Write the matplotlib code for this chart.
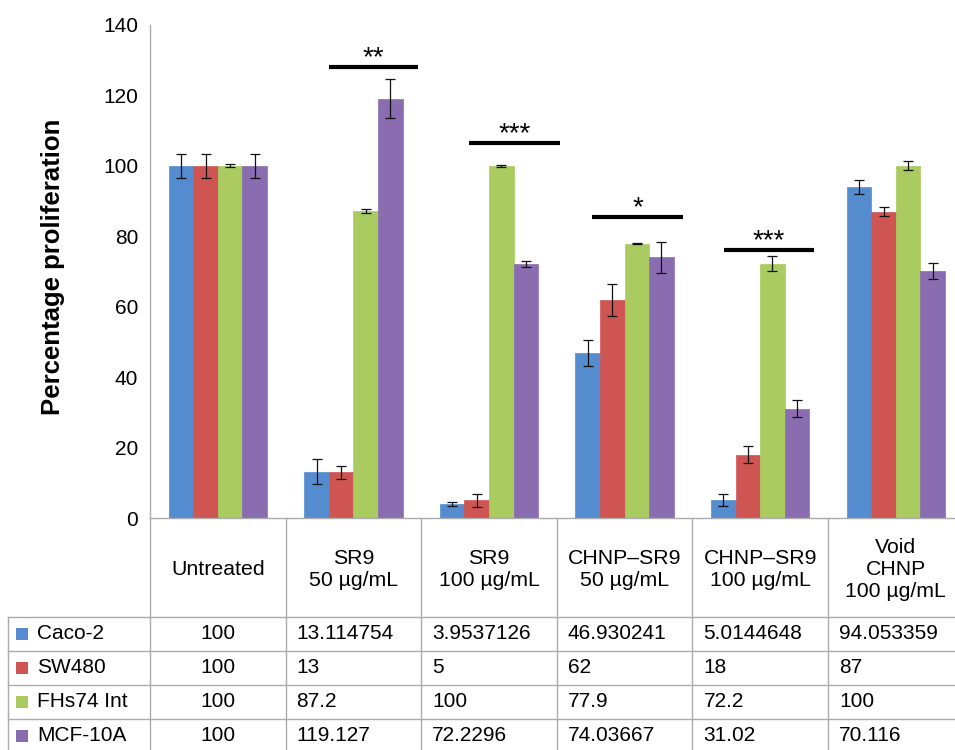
import matplotlib
matplotlib.use("Agg")
import matplotlib.pyplot as plt
import numpy as np
from matplotlib.patches import Rectangle
from matplotlib.lines import Line2D

plt.rcParams['font.family'] = ['Liberation Sans', 'DejaVu Sans']

# ---------------- data ----------------
categories = ["Untreated", "SR9\n50 µg/mL", "SR9\n100 µg/mL", "CHNP–SR9\n50 µg/mL",
              "CHNP–SR9\n100 µg/mL", "Void\nCHNP\n100 µg/mL"]
series_names = ["Caco-2", "SW480", "FHs74 Int", "MCF-10A"]
caco2 = [100, 13.114754, 3.9537126, 46.930241, 5.0144648, 94.053359]
sw480 = [100, 13, 5, 62, 18, 87]
fhs74 = [100, 87.2, 100, 77.9, 72.2, 100]
mcf10a = [100, 119.127, 72.2296, 74.03667, 31.02, 70.116]
caco2_err = [3.5, 3.5, 0.6, 3.7, 1.7, 2.0]
sw480_err = [3.4, 1.9, 1.9, 4.5, 2.4, 1.3]
fhs74_err = [0.4, 0.5, 0.2, 0.2, 2.1, 1.3]
mcf10a_err = [3.4, 5.4, 0.85, 4.4, 2.4, 2.2]
sig_labels = ["**", "***", "*", "***"]
sig_groups = [1, 2, 3, 4]
sig_levels = [128, 106.4, 85.4, 76.1]

colors = ["#548CCF", "#CF5553", "#A9CB5F", "#8A6CB0"]
values = [caco2, sw480, fhs74, mcf10a]
errors = [caco2_err, sw480_err, fhs74_err, mcf10a_err]

# ---------------- figure ----------------
W, H = 955, 750
fig = plt.figure(figsize=(W / 100, H / 100), dpi=100)

def fx(x):
    return x / W

def fy(y):
    return 1 - y / H

ax_l, ax_r, ax_t, ax_b = 150, 955, 25, 518
colw = 135.6
ax = fig.add_axes([fx(ax_l), fy(ax_b), fx(ax_r - ax_l), fy(ax_t) - fy(ax_b)])

n = len(categories)
bw = 0.1814
centers = np.arange(n) + 0.5
for k, (vals, errs, c) in enumerate(zip(values, errors, colors)):
    xs = centers + (k - 1.5) * bw
    ax.bar(xs, vals, width=bw, color=c, edgecolor=c, linewidth=0.5, zorder=2)
    ax.errorbar(xs, vals, yerr=errs, fmt='none', ecolor='#111111', elinewidth=0.9,
                capsize=3.6, capthick=0.9, zorder=3)

# significance bars
sig_start = [0.32, 0.355, 0.26, 0.23]
sig_end = [0.98, 1.02, 0.93, 0.90]
for g, lab, lvl, s0, s1 in zip(sig_groups, sig_labels, sig_levels, sig_start, sig_end):
    ax.plot([g + s0, g + s1], [lvl, lvl], color='black', lw=3.0, solid_capstyle='butt', zorder=4)
    ax.text(g + (s0 + s1) / 2, lvl + 0.5, lab, ha='center', va='baseline', fontsize=20,
            fontweight='medium', zorder=4)

ax.set_xlim(0, (ax_r - ax_l) / colw)
ax.set_ylim(0, 140)
ax.set_yticks(np.arange(0, 141, 20))
ax.set_xticks([])
ax.tick_params(axis='y', length=0, labelsize=15, pad=8.6)
for s in ['top', 'right']:
    ax.spines[s].set_visible(False)
for s in ['left', 'bottom']:
    ax.spines[s].set_color('#ababab')
    ax.spines[s].set_linewidth(1.0)
ax.set_ylabel("Percentage proliferation", fontsize=18.5, fontweight='bold')
ax.yaxis.set_label_coords((65 - ax_l) / (ax_r - ax_l), (518 - 267) / (ax_b - ax_t))

# ---------------- data table ----------------
lc = '#ababab'
row_lines = [617, 650.5, 684.5, 718.5]
bottom = 760
col_x = [ax_l + i * colw for i in range(n + 1)]
for x in col_x[:-1]:
    fig.add_artist(Line2D([fx(x), fx(x)], [fy(ax_b), fy(bottom)], color=lc, lw=1.0))
fig.add_artist(Line2D([fx(8), fx(8)], [fy(row_lines[0]), fy(bottom)], color=lc, lw=1.0))
for y in row_lines:
    fig.add_artist(Line2D([fx(8), fx(W)], [fy(y), fy(y)], color=lc, lw=1.0))

for i, cat in enumerate(categories):
    fig.text(fx(col_x[i] + colw / 2), fy(569.5), cat, ha='center', va='center',
             fontsize=15.3, linespacing=1.2)

row_centers = [633.5, 667.5, 701.5, 735.5]
for r, (name, vals, c) in enumerate(zip(series_names, values, colors)):
    yc = row_centers[r]
    fig.add_artist(Rectangle((fx(16), fy(yc + 6)), fx(12), fy(yc - 6) - fy(yc + 6),
                             facecolor=c, edgecolor='none'))
    fig.text(fx(37), fy(yc), name, ha='left', va='center', fontsize=15)
    for i, v in enumerate(vals):
        if i == 0:
            fig.text(fx(col_x[i] + colw / 2), fy(yc), str(v), ha='center', va='center', fontsize=15)
        else:
            fig.text(fx(col_x[i] + 11), fy(yc), str(v), ha='left', va='center', fontsize=15)

fig.savefig("out.png", dpi=100)
